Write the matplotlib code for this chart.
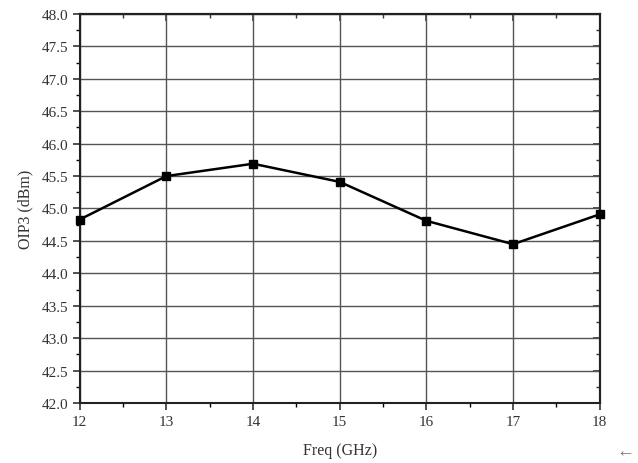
import matplotlib
matplotlib.use("Agg")
import matplotlib.pyplot as plt
from matplotlib.ticker import MultipleLocator, NullFormatter

freq = [12, 13, 14, 15, 16, 17, 18]
oip3 = [44.83, 45.50, 45.69, 45.41, 44.81, 44.45, 44.91]
yticks = [42.0 + 0.5 * i for i in range(13)]
xticks = [12, 13, 14, 15, 16, 17, 18]

plt.rcParams['font.family'] = ['Liberation Serif', 'DejaVu Sans']

fig = plt.figure(figsize=(6.38, 4.64), dpi=100)
ax = fig.add_axes([0.125, 0.129, 0.815, 0.839])

ax.set_xlim(12, 18)
ax.set_ylim(42, 48)
ax.set_xticks(xticks)
ax.set_yticks(yticks)
ax.set_yticklabels([f"{v:.1f}" for v in yticks])
ax.xaxis.set_minor_locator(MultipleLocator(0.5))
ax.yaxis.set_minor_locator(MultipleLocator(0.25))

ax.grid(True, which='major', color='#555555', linewidth=1.0)
ax.set_axisbelow(True)

ax.plot(freq, oip3, color='black', linewidth=1.8, marker='s', markersize=6,
        clip_on=False, zorder=3)

for s in ax.spines.values():
    s.set_linewidth(1.5)
    s.set_color('#222222')

ax.tick_params(axis='both', which='major', direction='out', length=5, width=1.2,
               labelsize=11, colors='#333333')
ax.tick_params(axis='both', which='minor', direction='out', length=3, width=1.0)

# right side: ticks pointing inward
sy = ax.secondary_yaxis('right')
sy.set_yticks(yticks)
sy.yaxis.set_minor_locator(MultipleLocator(0.25))
sy.yaxis.set_major_formatter(NullFormatter())
sy.tick_params(which='major', direction='in', length=5, width=1.2, colors='#333333')
sy.tick_params(which='minor', direction='in', length=3, width=1.0, colors='#333333')
sy.spines['right'].set_linewidth(1.5)

# top side: minor ticks pointing inward
sx = ax.secondary_xaxis('top')
sx.set_xticks(xticks)
sx.xaxis.set_minor_locator(MultipleLocator(0.5))
sx.xaxis.set_major_formatter(NullFormatter())
sx.tick_params(which='major', direction='in', length=5, width=1.2, colors='#333333')
sx.tick_params(which='minor', direction='in', length=3, width=1.0, colors='#333333')
sx.spines['top'].set_linewidth(1.5)

ax.set_xlabel("Freq (GHz)", fontsize=11.5, color='#333333', labelpad=10)
ax.set_ylabel("OIP3 (dBm)", fontsize=11.5, color='#333333', labelpad=6)

fig.text(0.98, 0.025, "\u2190", fontsize=13, color='#777777', ha='center', va='center')

fig.savefig("out.png", dpi=100)
